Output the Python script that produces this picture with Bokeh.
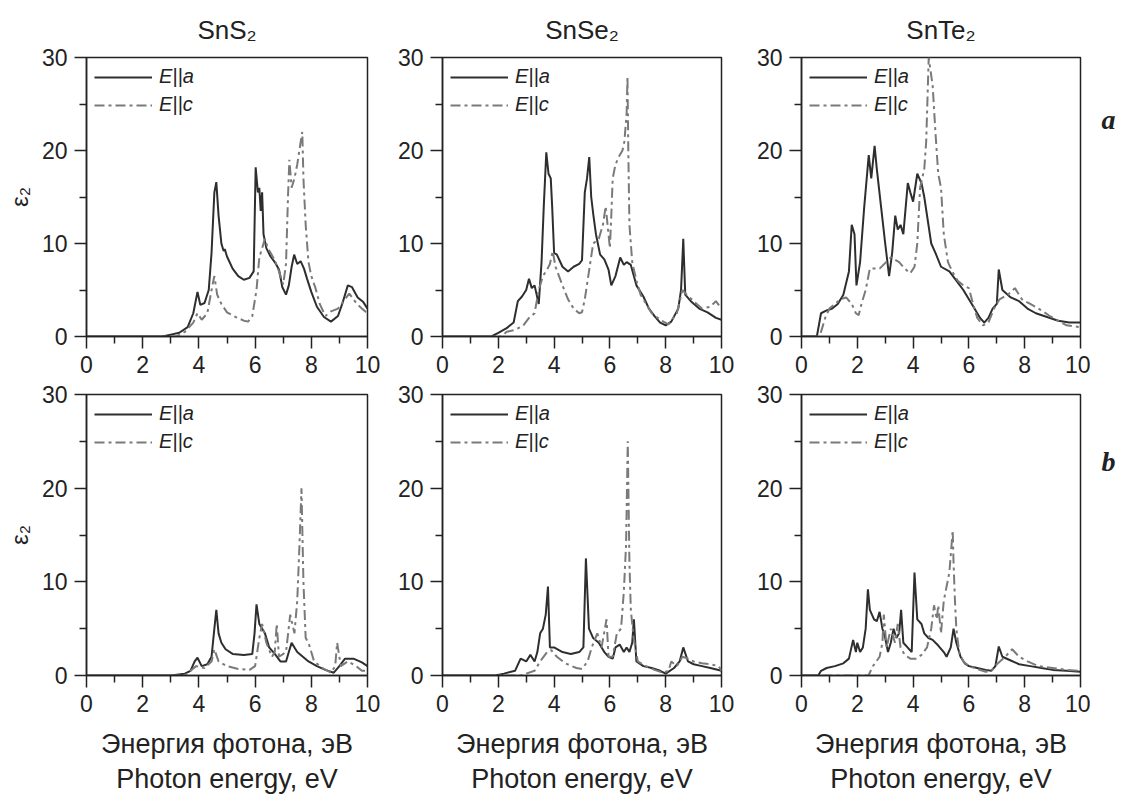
from bokeh.plotting import figure
from bokeh.layouts import column, row
from bokeh.models import Title, Label, FixedTicker, Range1d
from bokeh.embed import file_html
from bokeh.resources import INLINE

# ---------------- data (photon energy, eV / epsilon_2) ----------------
compounds = ["SnS₂", "SnSe₂", "SnTe₂"]
row_tags = ["a", "b"]
x_ticks = [0, 2, 4, 6, 8, 10]
x_minor = [1, 3, 5, 7, 9]
y_ticks = [0, 10, 20, 30]
y_minor = [5, 15, 25]

# row a, SnS2
sns2_a_Ea = [0, 2.7, 3.0, 3.3, 3.6, 3.8, 3.95, 4.05, 4.2, 4.35, 4.45, 4.55, 4.62, 4.7, 4.8, 4.88, 4.92, 5.0, 5.2, 5.4, 5.6, 5.8, 5.95, 6.02, 6.1, 6.15, 6.2, 6.25, 6.3, 6.4, 6.55, 6.7, 6.85, 6.97, 7.1, 7.2, 7.3, 7.39, 7.5, 7.62, 7.74, 7.85, 8.0, 8.2, 8.45, 8.7, 8.95, 9.1, 9.3, 9.45, 9.65, 9.85, 10]
sns2_a_ya = [0, 0, 0.2, 0.4, 1.0, 2.5, 4.8, 3.4, 3.6, 5.0, 9, 15.5, 16.6, 13, 10, 9.2, 9.4, 8.6, 7.3, 6.5, 6.1, 6.3, 7.0, 18.2, 15.5, 16, 13.5, 15.5, 11, 9.5, 8.6, 8.0, 7.2, 5.3, 4.5, 5.5, 7.5, 8.8, 7.8, 8.1, 7.3, 6.2, 4.8, 3.2, 2.1, 1.6, 2.2, 3.5, 5.5, 5.3, 4.2, 3.7, 3.0]
sns2_a_Ec = [0, 3.2, 3.5, 3.8, 3.95, 4.1, 4.3, 4.45, 4.55, 4.65, 4.8, 5.0, 5.3, 5.6, 5.75, 5.9, 6.05, 6.15, 6.25, 6.35, 6.45, 6.55, 6.7, 6.85, 7.0, 7.1, 7.17, 7.22, 7.3, 7.4, 7.5, 7.6, 7.68, 7.72, 7.8, 7.9, 8.0, 8.15, 8.3, 8.5, 8.7, 8.95, 9.2, 9.35, 9.6, 9.8, 10]
sns2_a_yc = [0, 0, 0.5, 1.5, 2.5, 1.8, 2.5, 5.0, 6.5, 4.5, 3.5, 2.6, 2.1, 1.7, 1.6, 2.2, 5.0, 8.5, 9.5, 10.5, 9.5, 9.0, 8.2, 7.0, 5.6, 7.8, 15, 19, 16, 17, 18.5, 20.5, 22, 17, 12, 8.0, 6.5, 5.2, 3.5, 2.2, 2.7, 3.0, 4.0, 4.6, 3.6, 3.0, 2.5]

# row a, SnSe2
snse2_a_Ea = [0, 1.75, 2.0, 2.3, 2.55, 2.7, 2.85, 3.0, 3.1, 3.2, 3.3, 3.45, 3.55, 3.63, 3.72, 3.8, 3.88, 3.93, 4.0, 4.1, 4.3, 4.5, 4.7, 4.9, 5.0, 5.1, 5.18, 5.26, 5.33, 5.41, 5.5, 5.65, 5.8, 5.95, 6.05, 6.2, 6.37, 6.5, 6.6, 6.75, 6.95, 7.2, 7.4, 7.6, 7.8, 8.0, 8.2, 8.45, 8.55, 8.63, 8.7, 8.9, 9.2, 9.5, 9.8, 10]
snse2_a_ya = [0, 0, 0.4, 0.9, 1.5, 3.8, 4.3, 5.0, 6.2, 5.2, 5.5, 3.5, 8, 14, 19.8, 17.5, 17.0, 14, 9, 8.8, 7.5, 7.0, 7.5, 7.8, 8.2, 15.5, 17, 19.3, 15, 13, 11, 8.8, 8.3, 7.2, 5.5, 6.5, 8.5, 7.7, 8.0, 7.7, 5.5, 4.3, 3.0, 2.2, 1.5, 1.2, 1.6, 3.0, 5, 10.5, 4.5, 3.8, 3.0, 2.6, 2.0, 1.8]
snse2_a_Ec = [0, 2.1, 2.3, 2.6, 2.9, 3.1, 3.3, 3.45, 3.6, 3.75, 3.85, 3.95, 4.05, 4.3, 4.5, 4.7, 4.9, 5.0, 5.1, 5.25, 5.4, 5.6, 5.75, 5.85, 5.95, 6.0, 6.05, 6.1, 6.2, 6.35, 6.45, 6.52, 6.6, 6.63, 6.66, 6.7, 6.8, 6.95, 7.1, 7.3, 7.5, 7.8, 8.1, 8.4, 8.6, 8.75, 9.0, 9.3, 9.6, 9.8, 10]
snse2_a_yc = [0, 0, 0.5, 0.7, 1.2, 2.0, 2.5, 5.0, 6.5, 7.2, 7.8, 9.2, 7.5, 5.5, 4.0, 3.0, 2.5, 2.6, 4.0, 7.0, 10, 10.5, 12, 14, 11, 9.5, 13, 17, 18.5, 19.5, 20, 21, 24, 28, 20, 12, 8, 6, 4.5, 3.5, 2.5, 1.8, 1.3, 2.5, 5.0, 4.5, 3.8, 3.0, 3.2, 3.8, 3.0]

# row a, SnTe2
snte2_a_Ea = [0, 0.55, 0.7, 0.9, 1.1, 1.3, 1.5, 1.7, 1.8, 1.9, 1.97, 2.1, 2.25, 2.41, 2.5, 2.62, 2.7, 2.85, 3.0, 3.14, 3.25, 3.36, 3.45, 3.55, 3.65, 3.81, 3.9, 4.0, 4.15, 4.3, 4.4, 4.55, 4.65, 4.8, 5.0, 5.3, 5.55, 5.8, 6.0, 6.2, 6.4, 6.55, 6.7, 6.85, 7.0, 7.07, 7.2, 7.5, 7.8, 8.1, 8.4, 8.8, 9.2, 9.6, 10]
snte2_a_ya = [0, 0, 2.5, 2.8, 3.0, 3.5, 4.5, 7, 12, 11, 5.5, 8, 14, 19.5, 17, 20.5, 18, 14, 10, 6.5, 9, 13, 11.5, 12, 11, 16.5, 15.5, 14.5, 17.5, 16.5, 15, 12, 10, 9.0, 7.5, 7.0, 6.0, 5.0, 4.0, 3.0, 2.0, 1.5, 2.0, 3.0, 3.5, 7.2, 5.0, 4.2, 3.8, 3.0, 2.5, 2.1, 1.7, 1.5, 1.5]
snte2_a_Ec = [0, 0.6, 0.7, 0.85, 1.0, 1.2, 1.4, 1.6, 1.8, 1.95, 2.05, 2.15, 2.3, 2.45, 2.8, 3.2, 3.5, 3.7, 3.9, 4.05, 4.15, 4.25, 4.4, 4.47, 4.56, 4.7, 4.8, 4.9, 5.0, 5.1, 5.25, 5.4, 5.6, 5.8, 6.0, 6.15, 6.3, 6.5, 6.7, 6.9, 7.1, 7.4, 7.65, 7.9, 8.2, 8.6, 8.9, 9.2, 9.5, 10]
snte2_a_yc = [0, 0, 0.5, 2, 3, 3.5, 4, 4.2, 3.5, 2.5, 2.3, 3.5, 5, 7.3, 7.3, 8.5, 8, 7.3, 6.8, 7.5, 10, 16, 18, 21, 30, 27, 22, 17.5, 16, 11, 8, 7, 6, 5.5, 5.2, 3.5, 2.0, 1.2, 1.5, 3, 4.0, 4.5, 5.2, 4.0, 3.5, 2.8, 2.2, 1.7, 1.2, 1.0]

# row b, SnS2
sns2_b_Ea = [0, 3.0, 3.5, 3.7, 3.85, 3.95, 4.1, 4.3, 4.45, 4.55, 4.62, 4.7, 4.8, 4.95, 5.2, 5.6, 5.9, 5.98, 6.05, 6.15, 6.25, 6.35, 6.5, 6.7, 6.9, 7.1, 7.2, 7.3, 7.4, 7.5, 7.7, 7.9, 8.2, 8.5, 8.8, 9.0, 9.2, 9.5, 9.8, 10]
sns2_b_ya = [0, 0, 0.2, 0.5, 1.5, 1.9, 1.0, 1.2, 2.0, 5.0, 7.0, 4.5, 3.5, 2.8, 2.3, 2.2, 2.3, 4.5, 7.6, 5.5, 5.0, 4.5, 3.0, 2.3, 1.5, 1.5, 2.5, 3.5, 3.0, 2.5, 2.0, 1.5, 1.0, 0.6, 0.3, 1.0, 1.8, 1.8, 1.4, 1.0]
sns2_b_Ec = [0, 3.5, 3.9, 4.2, 4.45, 4.55, 4.7, 5.0, 5.4, 5.8, 6.0, 6.15, 6.25, 6.4, 6.6, 6.7, 6.77, 6.85, 7.1, 7.25, 7.4, 7.5, 7.58, 7.65, 7.72, 7.8, 7.9, 8.1, 8.4, 8.7, 8.85, 8.92, 9.05, 9.3, 9.6, 9.8, 10]
sns2_b_yc = [0, 0, 1.0, 0.8, 1.5, 2.8, 1.5, 1.0, 0.7, 0.6, 1.0, 4.0, 5.5, 3.5, 2.0, 2.5, 5.5, 2.0, 2.5, 6.5, 4.5, 8.0, 14, 20, 10, 4.0, 3.5, 1.5, 0.8, 0.3, 1.0, 3.5, 1.0, 1.5, 1.0, 0.5, 0.5]

# row b, SnSe2
snse2_b_Ea = [0, 1.9, 2.2, 2.6, 2.8, 3.0, 3.15, 3.3, 3.4, 3.5, 3.6, 3.7, 3.78, 3.85, 4.0, 4.3, 4.6, 4.9, 5.05, 5.14, 5.25, 5.4, 5.6, 5.8, 5.95, 6.1, 6.2, 6.35, 6.5, 6.6, 6.7, 6.8, 6.86, 6.95, 7.2, 7.5, 7.8, 8.0, 8.3, 8.5, 8.63, 8.8, 9.0, 9.3, 9.6, 10]
snse2_b_ya = [0, 0, 0.2, 0.5, 1.8, 1.5, 2.2, 1.5, 2.5, 4.5, 5.0, 6.5, 9.5, 3.0, 3.0, 2.5, 2.3, 2.5, 3.0, 12.5, 5.0, 4.0, 3.5, 2.5, 2.0, 1.8, 3.0, 3.3, 2.5, 3.0, 2.5, 3.5, 6.0, 1.5, 1.0, 0.8, 0.5, 0.2, 0.8, 1.5, 3.0, 1.5, 1.2, 1.0, 0.8, 0.5]
snse2_b_Ec = [0, 2.8, 3.0, 3.3, 3.5, 3.75, 3.9, 4.1, 4.4, 4.8, 5.0, 5.2, 5.35, 5.55, 5.7, 5.88, 5.95, 6.1, 6.25, 6.4, 6.5, 6.58, 6.64, 6.7, 6.75, 6.85, 7.0, 7.3, 7.6, 7.9, 8.1, 8.2, 8.4, 8.6, 8.8, 9.0, 9.3, 9.6, 9.9, 10]
snse2_b_yc = [0, 0, 0.2, 0.5, 1.5, 2.5, 2.7, 2.0, 1.3, 0.8, 0.7, 1.5, 3.0, 4.5, 3.0, 6.0, 2.0, 2.0, 4.5, 5.0, 9.0, 14, 25, 12, 7, 4, 1.5, 1.0, 0.6, 0.3, 0.5, 1.5, 1.0, 2.0, 1.8, 1.5, 1.3, 1.2, 1.0, 0.5]

# row b, SnTe2
snte2_b_Ea = [0, 0.6, 0.7, 0.9, 1.2, 1.5, 1.7, 1.85, 1.95, 2.0, 2.1, 2.2, 2.3, 2.38, 2.45, 2.6, 2.7, 2.8, 2.9, 3.0, 3.1, 3.2, 3.3, 3.4, 3.5, 3.57, 3.65, 3.8, 3.95, 4.05, 4.15, 4.3, 4.4, 4.55, 4.7, 4.9, 5.1, 5.2, 5.35, 5.45, 5.55, 5.7, 5.85, 6.0, 6.3, 6.6, 6.8, 6.95, 7.07, 7.2, 7.5, 7.8, 8.2, 8.6, 9.0, 9.5, 10]
snte2_b_ya = [0, 0, 0.5, 0.8, 1.0, 1.3, 1.8, 3.8, 2.5, 3.5, 2.5, 3.0, 5.0, 9.2, 7.0, 6.0, 5.8, 6.8, 5.0, 4.0, 2.5, 3.5, 5.0, 4.0, 4.5, 7.0, 3.5, 3.0, 2.5, 11, 6.0, 5.5, 4.5, 4.0, 3.8, 3.2, 2.5, 2.0, 3.0, 5.0, 3.5, 2.0, 1.3, 1.0, 0.8, 0.6, 0.5, 1.0, 3.1, 2.0, 1.6, 1.2, 1.0, 0.8, 0.6, 0.5, 0.4]
snte2_b_Ec = [0, 2.4, 2.56, 2.8, 2.9, 2.95, 3.05, 3.2, 3.35, 3.45, 3.55, 3.7, 3.9, 4.1, 4.3, 4.5, 4.65, 4.75, 4.85, 4.9, 5.0, 5.1, 5.2, 5.3, 5.42, 5.45, 5.5, 5.55, 5.65, 5.8, 6.0, 6.3, 6.6, 6.8, 7.0, 7.3, 7.55, 7.8, 8.1, 8.5, 9.0, 9.5, 10]
snte2_b_yc = [0, 0, 1.0, 2.0, 3.5, 6.5, 3.0, 5.0, 3.5, 5.5, 3.0, 2.2, 1.8, 1.8, 2.2, 3.0, 5.0, 7.5, 6.0, 7.5, 4.5, 8.0, 9.5, 11, 15.5, 12, 8, 5, 2.5, 1.5, 1.0, 0.7, 0.4, 0.5, 1.2, 2.0, 2.8, 2.0, 1.5, 1.0, 0.8, 0.6, 0.5]

series = {
    (0, 0): (sns2_a_Ea, sns2_a_ya, sns2_a_Ec, sns2_a_yc),
    (0, 1): (snse2_a_Ea, snse2_a_ya, snse2_a_Ec, snse2_a_yc),
    (0, 2): (snte2_a_Ea, snte2_a_ya, snte2_a_Ec, snte2_a_yc),
    (1, 0): (sns2_b_Ea, sns2_b_ya, sns2_b_Ec, sns2_b_yc),
    (1, 1): (snse2_b_Ea, snse2_b_ya, snse2_b_Ec, snse2_b_yc),
    (1, 2): (snte2_b_Ea, snte2_b_ya, snte2_b_Ec, snte2_b_yc),
}
tag_y = [23.3, 22.9]   # vertical position of the row tags, in epsilon_2 units

# ---------------- styling ----------------
FONT = "Liberation Sans"
INK = "#222222"
SOLID = "#2e2e2e"
DASH = "#7a7a7a"

frame_w = [281, 279, 279]
border_l = [86, 55, 55]
border_r = [20, 25, 10]
frame_h = [279, 281]
border_t = [56, 11]
border_b = [47, 120]
TAG_W = 30


def panel(r, c):
    Ea, ya, Ec, yc = series[(r, c)]
    p = figure(frame_width=frame_w[c], frame_height=frame_h[r],
               min_border_left=border_l[c], min_border_right=border_r[c],
               min_border_top=border_t[r], min_border_bottom=border_b[r],
               x_range=Range1d(0, 10), y_range=Range1d(0, 30),
               output_backend="svg", toolbar_location=None)
    p.background_fill_color = "white"
    p.border_fill_color = "white"
    p.outline_line_color = INK
    p.outline_line_width = 1.5
    p.outline_line_alpha = 1.0
    p.xgrid.visible = False
    p.ygrid.visible = False

    p.xaxis.ticker = FixedTicker(ticks=x_ticks, minor_ticks=x_minor)
    p.yaxis.ticker = FixedTicker(ticks=y_ticks, minor_ticks=y_minor)
    for ax in (p.xaxis, p.yaxis):
        ax.axis_line_color = INK
        ax.axis_line_width = 1.5
        ax.major_tick_line_color = INK
        ax.major_tick_line_width = 1.5
        ax.minor_tick_line_color = INK
        ax.minor_tick_line_width = 1.5
        ax.major_tick_in = 0
        ax.minor_tick_in = 0
        ax.major_tick_out = 12
        ax.minor_tick_out = 7
        ax.major_label_text_font = FONT
        ax.major_label_text_font_size = "23px"
        ax.major_label_text_color = INK
    p.xaxis.major_label_standoff = 7
    p.yaxis.major_label_standoff = 7

    if r == 0:
        p.title.text = compounds[c]
        p.title.text_font = FONT
        p.title.text_font_size = "26px"
        p.title.text_font_style = "normal"
        p.title.text_color = INK
        p.title.align = "center"
        p.title.standoff = 25

    if c == 0:
        p.yaxis.axis_label = "ε₂"
        p.yaxis.axis_label_text_font = FONT
        p.yaxis.axis_label_text_font_size = "24px"
        p.yaxis.axis_label_text_font_style = "normal"
        p.yaxis.axis_label_text_color = INK
        p.yaxis.axis_label_standoff = 6

    if r == 1:
        p.xaxis.axis_label = "Энергия фотона, эВ"
        p.xaxis.axis_label_text_font = FONT
        p.xaxis.axis_label_text_font_size = "27px"
        p.xaxis.axis_label_text_font_style = "normal"
        p.xaxis.axis_label_text_color = INK
        p.xaxis.axis_label_standoff = 14
        t2 = Title(text="Photon energy, eV", align="center", text_font=FONT,
                   text_font_size="27px", text_font_style="normal", text_color=INK,
                   standoff=0)
        p.add_layout(t2, "below")

    p.line(Ea, ya, line_color=SOLID, line_width=2, legend_label="E||a")
    p.line(Ec, yc, line_color=DASH, line_width=2, line_dash="10 4 3 4",
           legend_label="E||c")

    lg = p.legend[0]
    lg.location = "top_left"
    lg.margin = 2
    lg.padding = 6
    lg.glyph_width = 58
    lg.glyph_height = 20
    lg.label_height = 20
    lg.spacing = 5
    lg.label_standoff = 7
    lg.label_text_font = FONT
    lg.label_text_font_size = "20px"
    lg.label_text_font_style = "italic"
    lg.label_text_color = INK
    lg.background_fill_alpha = 0
    lg.border_line_alpha = 0
    return p


def tag_panel(r):
    # narrow strip on the right that carries the row tag (a / b)
    t = figure(frame_width=TAG_W, frame_height=frame_h[r],
               min_border_left=0, min_border_right=0,
               min_border_top=border_t[r], min_border_bottom=border_b[r],
               x_range=Range1d(0, TAG_W), y_range=Range1d(0, 30),
               x_axis_location=None, y_axis_location=None,
               output_backend="svg", toolbar_location=None)
    t.outline_line_color = None
    t.xgrid.visible = False
    t.ygrid.visible = False
    t.background_fill_color = "white"
    t.border_fill_color = "white"
    t.add_layout(Label(x=18, y=tag_y[r], text=row_tags[r],
                       text_font="Liberation Serif", text_font_style="bold italic",
                       text_font_size="28px", text_color=INK,
                       text_align="center", text_baseline="middle"))
    return t


rows = []
for r in range(2):
    rows.append(row(*[panel(r, c) for c in range(3)], tag_panel(r)))
layout = column(*rows)

open("out.html", "w").write(file_html(layout, INLINE))
